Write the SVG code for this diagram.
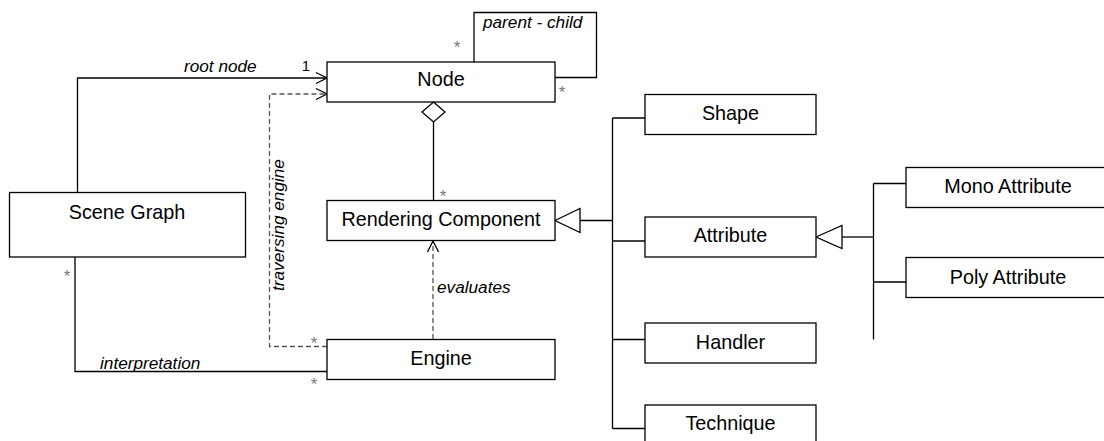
<svg xmlns="http://www.w3.org/2000/svg" width="1104" height="441" viewBox="0 0 1104 441">
  <style>
    .box { fill: #fff; stroke: #000; stroke-width: 1.3; }
    .name { font-family: "Liberation Sans", Arial, sans-serif; font-size: 19.8px; fill: #000; text-anchor: middle; }
    .role { font-family: "Liberation Sans", Arial, sans-serif; font-size: 17.2px; font-style: italic; fill: #000; }
    .mult { font-family: "Liberation Sans", Arial, sans-serif; font-size: 17px; fill: #777; text-anchor: middle; }
    .one { font-family: "Liberation Sans", Arial, sans-serif; font-size: 15px; fill: #000; text-anchor: middle; }
    .line { fill: none; stroke: #000; stroke-width: 1.3; }
    .dash { fill: none; stroke: #555; stroke-width: 1.3; stroke-dasharray: 5 3; }
    .head { fill: none; stroke: #000; stroke-width: 1.3; }
    .tri { fill: #fff; stroke: #000; stroke-width: 1.3; }
  </style>

  <!-- connectors -->
  <g id="connectors">
    <!-- Scene Graph to Node: root node -->
    <polyline class="line" points="77.5,192 77.5,78 327,78"/>
    <polyline class="head" points="316,72.5 327,78 316,83.5"/>
    <text class="role" x="184" y="72">root node</text>
    <text class="one" x="306" y="71">1</text>

    <!-- Node self association: parent - child -->
    <polyline class="line" points="474,62 474,12.5 596.5,12.5 596.5,77.5 555,77.5"/>
    <text class="role" x="483" y="28">parent - child</text>
    <text class="mult" x="457" y="53">*</text>
    <text class="mult" x="562" y="98">*</text>

    <!-- Node aggregates Rendering Component -->
    <polygon class="line" points="433.5,102 445,112 433.5,122 422,112"/>
    <line class="line" x1="433.5" y1="122" x2="433.5" y2="200"/>
    <text class="mult" x="443" y="201.5">*</text>

    <!-- Engine traverses Node -->
    <polyline class="dash" points="327,346.5 269.5,346.5 269.5,94 327,94"/>
    <polyline class="head" points="316,88.5 327,94 316,99.5"/>
    <text class="role" x="283.5" y="225" text-anchor="middle" transform="rotate(-90 283.5 225)">traversing engine</text>
    <text class="mult" x="314" y="349">*</text>

    <!-- Engine evaluates Rendering Component -->
    <line class="dash" x1="433" y1="339" x2="433" y2="241"/>
    <polyline class="head" points="427.5,252 433,241 438.5,252"/>
    <text class="role" x="437" y="293">evaluates</text>

    <!-- Scene Graph to Engine: interpretation -->
    <polyline class="line" points="75,257 75,371.5 327,371.5"/>
    <text class="role" x="100" y="369">interpretation</text>
    <text class="mult" x="67" y="281.5">*</text>
    <text class="mult" x="314" y="390">*</text>

    <!-- Rendering Component generalization -->
    <polygon class="tri" points="555,220.5 580,208.5 580,232.5"/>
    <line class="line" x1="580" y1="220.5" x2="612.5" y2="220.5"/>
    <line class="line" x1="612.5" y1="118" x2="612.5" y2="428.5"/>
    <line class="line" x1="612.5" y1="118" x2="645" y2="118"/>
    <line class="line" x1="612.5" y1="241" x2="645" y2="241"/>
    <line class="line" x1="612.5" y1="339.5" x2="645" y2="339.5"/>
    <line class="line" x1="612.5" y1="428.5" x2="645" y2="428.5"/>

    <!-- Attribute generalization -->
    <polygon class="tri" points="816,237 842,225.5 842,248.5"/>
    <line class="line" x1="842" y1="237" x2="873.5" y2="237"/>
    <line class="line" x1="873.5" y1="183.5" x2="873.5" y2="339.5"/>
    <line class="line" x1="873.5" y1="183.5" x2="906" y2="183.5"/>
    <line class="line" x1="873.5" y1="282" x2="906" y2="282"/>
  </g>

  <!-- nodes -->
  <g id="node-node">
    <rect class="box" x="327" y="62" width="228" height="40"/>
    <text class="name" x="441" y="86">Node</text>
  </g>
  <g id="node-scene-graph">
    <rect class="box" x="9.5" y="192.5" width="236" height="64.5"/>
    <text class="name" x="127" y="218.5">Scene Graph</text>
  </g>
  <g id="node-rendering-component">
    <rect class="box" x="327" y="200.5" width="228" height="40"/>
    <text class="name" x="441" y="226">Rendering Component</text>
  </g>
  <g id="node-engine">
    <rect class="box" x="327" y="339.5" width="228" height="40"/>
    <text class="name" x="441" y="364.5">Engine</text>
  </g>
  <g id="node-shape">
    <rect class="box" x="645" y="94.5" width="171" height="40"/>
    <text class="name" x="730.5" y="119.5">Shape</text>
  </g>
  <g id="node-attribute">
    <rect class="box" x="645" y="217" width="171" height="40"/>
    <text class="name" x="730.5" y="242">Attribute</text>
  </g>
  <g id="node-handler">
    <rect class="box" x="645" y="323" width="171" height="40"/>
    <text class="name" x="730.5" y="348.5">Handler</text>
  </g>
  <g id="node-technique">
    <rect class="box" x="645" y="405" width="171" height="40"/>
    <text class="name" x="730.5" y="430">Technique</text>
  </g>
  <g id="node-mono-attribute">
    <rect class="box" x="906" y="167.5" width="204" height="40"/>
    <text class="name" x="1008" y="192.5">Mono Attribute</text>
  </g>
  <g id="node-poly-attribute">
    <rect class="box" x="906" y="257.5" width="204" height="40"/>
    <text class="name" x="1008" y="283.5">Poly Attribute</text>
  </g>
</svg>
